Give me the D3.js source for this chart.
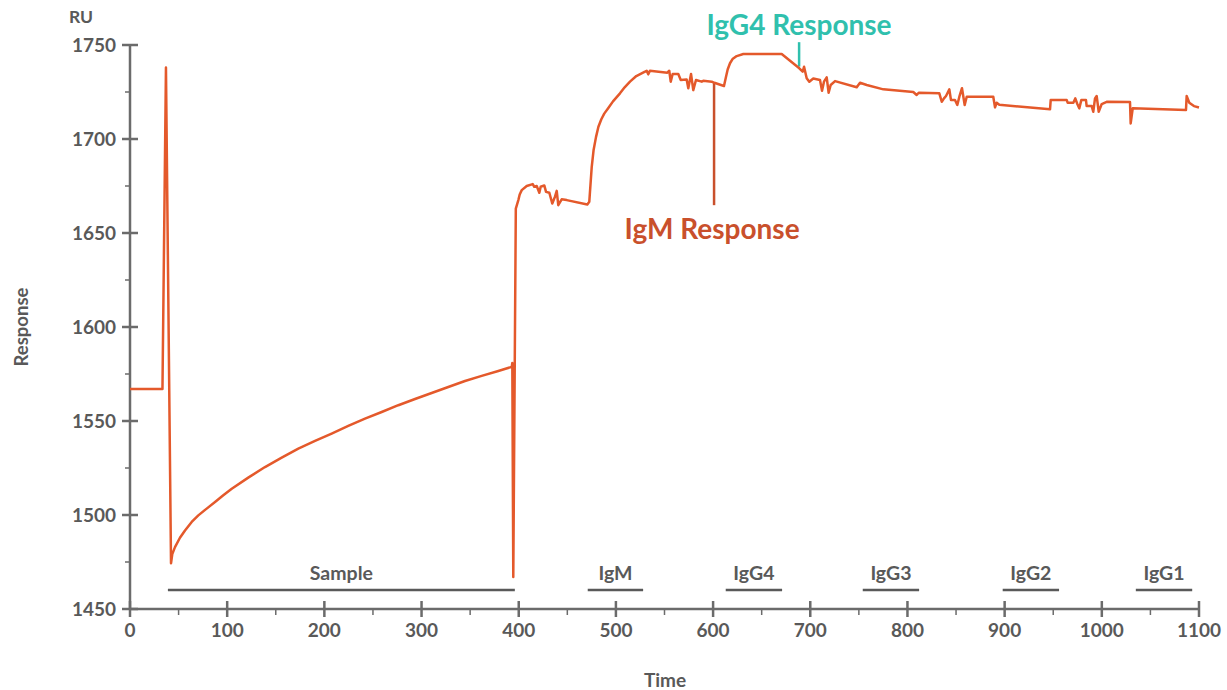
<!DOCTYPE html>
<html>
<head>
<meta charset="utf-8">
<script src="https://cdn.jsdelivr.net/npm/d3@7"></script>
<style>
  html, body { margin: 0; padding: 0; background: #fff; }
  svg { display: block; font-family: Lato, "Open Sans", sans-serif; }
</style>
</head>
<body>
<svg id="chart" width="1227" height="690"></svg>
<script>
// Sensorgram: [time, response in RU]
const sensorgram = [
  [0, 1567], [33.4, 1567], [37, 1738], [42.2, 1474.3], [43.5, 1479.2], [46.3, 1482.9],
  [51.4, 1487.9], [56.6, 1491.8], [63.5, 1496.3], [70.3, 1499.8], [78.9, 1503.4],
  [87.5, 1506.9], [96, 1510.5], [104.7, 1514], [121.7, 1519.9], [138.9, 1525.5],
  [156.1, 1530.5], [173.2, 1535.3], [190.4, 1539.4], [207.5, 1543.3], [224.6, 1547.4],
  [241.8, 1551.3], [259, 1554.8], [276.1, 1558.4], [293.3, 1561.7], [310.4, 1564.9],
  [327.5, 1568.1], [344.7, 1571.3], [361.9, 1574], [379, 1576.6], [392.8, 1578.8],
  [393.4, 1580.9], [394.4, 1467], [397, 1663], [399.6, 1667.5], [401, 1670.5],
  [403.1, 1672.8], [408.2, 1675], [414.4, 1676], [416, 1674.6],
  [418.5, 1675], [421.2, 1671.4], [422.6, 1674.6], [426.3, 1675.3], [428.1, 1671.9],
  [431.5, 1671.4], [434.5, 1665.7], [437.3, 1669.3], [439.1, 1672.4], [440.7, 1664.8],
  [444.2, 1667.9], [449.4, 1667.5], [470.6, 1665.2], [472.6, 1666.6], [475.1, 1685],
  [477, 1694], [479.5, 1701], [482, 1706.5], [485, 1710.5], [488, 1713.5], [492.2, 1716.5],
  [497, 1720], [504.2, 1724.3], [509, 1727.5], [514.5, 1730.5], [521, 1733.5],
  [529.9, 1735.8], [531.7, 1736.3], [533.3, 1734.4], [535, 1736.3], [552.9, 1735.3],
  [554.9, 1736.3], [556.4, 1730.5], [558.4, 1734.6], [564.2, 1734.6], [566.7, 1731.4],
  [572.8, 1731.7], [574.5, 1727], [577.3, 1734.6], [579.6, 1726], [582.4, 1731.4],
  [588.3, 1730.5], [589.9, 1731], [598.6, 1730.5], [601.3, 1729.9], [611.2, 1728.2],
  [613.3, 1733.1], [615, 1737], [617.4, 1740.3], [620, 1742.5], [624.3, 1744.1],
  [631.1, 1745.2], [670.6, 1745.2],
  [688.7, 1737.6], [692.2, 1735.8], [693.6, 1738.4], [696.3, 1732.3], [699, 1730.5],
  [703.1, 1732.2], [710, 1731.4], [712.1, 1725.7], [714.1, 1730.5], [716.9, 1732.8],
  [718.9, 1724.6], [721, 1728.7], [725.5, 1730.8], [747.8, 1727.5], [751.2, 1729.9],
  [758.1, 1728.7], [775.2, 1726.4], [806, 1725], [809.5, 1723.4], [811.6, 1724.6],
  [832.8, 1724.3], [835.3, 1719.8], [837.6, 1721.6], [839.7, 1722.9], [843.1, 1726.4],
  [844.8, 1720.7], [848.9, 1720.7], [851.3, 1718.1], [853.4, 1722.5], [856.1, 1727],
  [858.9, 1718.1], [861, 1722.5], [888.3, 1722.5], [890.1, 1716.8], [891.8, 1719.3],
  [894.5, 1718.2], [946.7, 1715.8], [947.4, 1720.7], [963.9, 1720.7], [964.9, 1719.3],
  [970.7, 1719.3], [972.7, 1721.6], [974.8, 1718.6], [976.8, 1716.3], [978.9, 1720.7],
  [983.7, 1720.7], [984.4, 1717.5], [989.6, 1717.5], [991.2, 1714.5], [993, 1721.6],
  [994.7, 1722.9], [996.8, 1714.5], [999.9, 1718.6], [1005, 1719.8], [1029, 1719.7],
  [1029.7, 1708.3], [1031.8, 1716.3], [1086.6, 1715.4], [1087.3, 1722.9], [1090, 1719.3],
  [1094.8, 1717.5], [1100, 1716.8]
];

// Injection periods
const periodNames = ["Sample", "IgM", "IgG4", "IgG3", "IgG2", "IgG1"];
const periodStart = [39, 471, 613, 754, 898, 1035];
const periodEnd   = [396, 528, 671, 812, 956, 1093];

// Callouts: label, time, top and bottom of the marker line, label anchor
const calloutNames  = ["IgM Response", "IgG4 Response"];
const calloutTime   = [601, 688.5];
const calloutFrom   = [1730, 1738.5];
const calloutTo     = [1664.8, 1751.5];
const calloutLabelT = [599, 688.4];
const calloutLabelV = [1646.7, 1755.3];

// Axis ticks
const xTicks = [0, 100, 200, 300, 400, 500, 600, 700, 800, 900, 1000, 1100];
const xMinor = [50, 150, 250, 350, 450, 550, 650, 750, 850, 950, 1050];
const yTicks = [1450, 1500, 1550, 1600, 1650, 1700, 1750];
const yMinor = [1475, 1525, 1575, 1625, 1675, 1725];

const svg = d3.select("#chart");
const x = d3.scaleLinear().domain([0, 1100]).range([130, 1199]);
const y = d3.scaleLinear().domain([1450, 1750]).range([609, 45]);

const axisColor = "#6b6b6b";
const textColor = "#595959";
const traceColor = "#e4592b";
const igmColor = "#c9502c";
const igg4Color = "#30c0ad";

// Y axis
const gy = svg.append("g");
gy.append("line").attr("x1", x(0)).attr("x2", x(0)).attr("y1", y(1450) + 1).attr("y2", y(1750))
  .attr("stroke", axisColor).attr("stroke-width", 2.5);
gy.selectAll(".maj").data(yTicks).join("line")
  .attr("x1", x(0) - 8).attr("x2", x(0) + 8).attr("y1", d => y(d)).attr("y2", d => y(d))
  .attr("stroke", axisColor).attr("stroke-width", 2.5);
gy.selectAll(".min").data(yMinor).join("line")
  .attr("x1", x(0) - 5).attr("x2", x(0)).attr("y1", d => y(d)).attr("y2", d => y(d))
  .attr("stroke", axisColor).attr("stroke-width", 1.5);
gy.selectAll("text").data(yTicks).join("text")
  .attr("x", x(0) - 14).attr("y", d => y(d) + 7)
  .attr("text-anchor", "end").attr("fill", textColor)
  .attr("font-size", 19).attr("font-weight", 700)
  .text(d => d);

// X axis
const gx = svg.append("g");
gx.append("line").attr("x1", x(0)).attr("x2", x(1100)).attr("y1", y(1450)).attr("y2", y(1450))
  .attr("stroke", axisColor).attr("stroke-width", 2.5);
gx.selectAll(".maj").data(xTicks).join("line")
  .attr("x1", d => x(d)).attr("x2", d => x(d)).attr("y1", y(1450) - 8).attr("y2", y(1450) + 8)
  .attr("stroke", axisColor).attr("stroke-width", 2.5);
gx.selectAll(".min").data(xMinor).join("line")
  .attr("x1", d => x(d)).attr("x2", d => x(d)).attr("y1", y(1450)).attr("y2", y(1450) + 6)
  .attr("stroke", axisColor).attr("stroke-width", 1.5);
gx.selectAll("text").data(xTicks).join("text")
  .attr("x", d => x(d)).attr("y", y(1450) + 28)
  .attr("text-anchor", "middle").attr("fill", textColor)
  .attr("font-size", 19).attr("font-weight", 700)
  .text(d => d);

// Axis titles
svg.append("text").attr("x", 81).attr("y", 23).attr("text-anchor", "middle")
  .attr("fill", textColor).attr("font-size", 17.5).attr("font-weight", 700).text("RU");
svg.append("text").attr("x", 665).attr("y", 687).attr("text-anchor", "middle")
  .attr("fill", textColor).attr("font-size", 19).attr("font-weight", 700).text("Time");
svg.append("text").attr("transform", "translate(28,327) rotate(-90)").attr("text-anchor", "middle")
  .attr("fill", textColor).attr("font-size", 18.5).attr("font-weight", 700).text("Response");

// Injection period bars
const periods = periodNames.map((n, i) => ({ name: n, start: periodStart[i], end: periodEnd[i] }));
const gp = svg.append("g");
gp.selectAll("line").data(periods).join("line")
  .attr("x1", d => x(d.start)).attr("x2", d => x(d.end))
  .attr("y1", 590).attr("y2", 590)
  .attr("stroke", textColor).attr("stroke-width", 2.5);
gp.selectAll("text").data(periods).join("text")
  .attr("x", d => x((d.start + d.end) / 2)).attr("y", 580)
  .attr("text-anchor", "middle").attr("fill", textColor)
  .attr("font-size", 19.5).attr("font-weight", 700)
  .text(d => d.name);

// Callout marker lines (drawn under the trace)
const callouts = calloutNames.map((n, i) => ({
  name: n, t: calloutTime[i], from: calloutFrom[i], to: calloutTo[i],
  lt: calloutLabelT[i], lv: calloutLabelV[i], color: i === 0 ? igmColor : igg4Color
}));
svg.append("g").selectAll("line").data(callouts).join("line")
  .attr("x1", d => x(d.t)).attr("x2", d => x(d.t))
  .attr("y1", d => y(d.from)).attr("y2", d => y(d.to))
  .attr("stroke", d => d.color).attr("stroke-width", 2.5);

// Sensorgram trace
const line = d3.line().x(d => x(d[0])).y(d => y(d[1])).curve(d3.curveLinear);
svg.append("path").datum(sensorgram)
  .attr("d", line).attr("fill", "none")
  .attr("stroke", traceColor).attr("stroke-width", 2.5)
  .attr("stroke-linejoin", "round");

// Callout labels
svg.append("g").selectAll("text").data(callouts).join("text")
  .attr("x", d => x(d.lt)).attr("y", d => y(d.lv))
  .attr("text-anchor", "middle").attr("fill", d => d.color)
  .attr("font-size", 28).attr("font-weight", 700)
  .text(d => d.name);
</script>
</body>
</html>
